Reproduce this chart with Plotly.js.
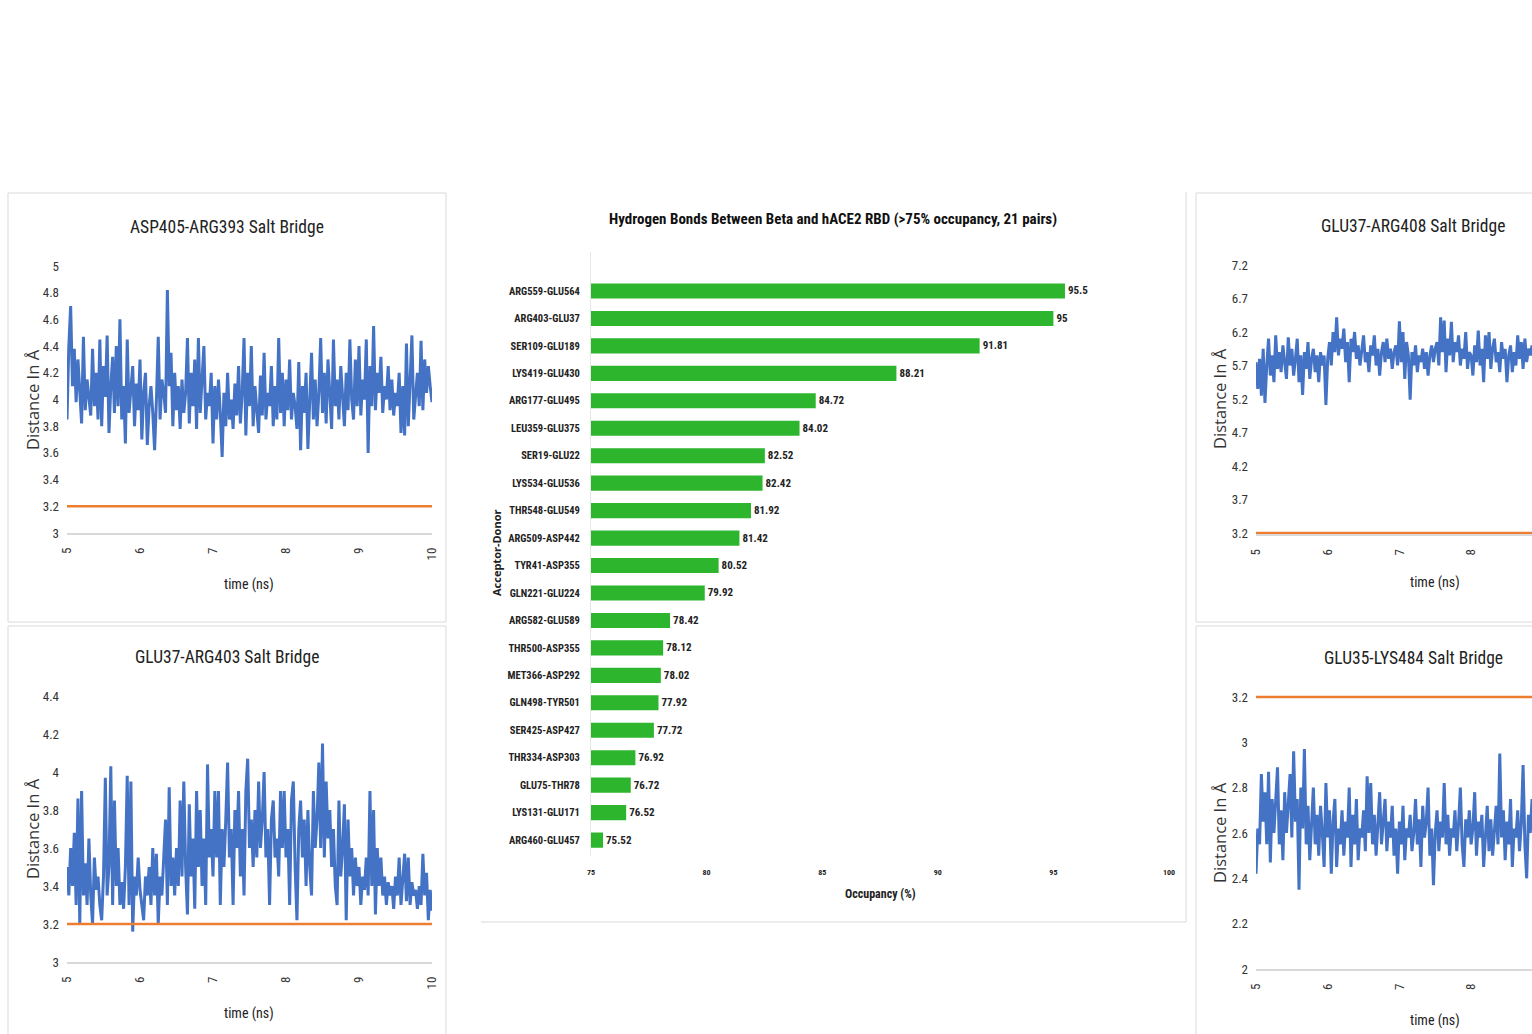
<!DOCTYPE html>
<html>
<head>
<meta charset="utf-8">
<script src="https://cdn.plot.ly/plotly-3.0.1.min.js"></script>
<style>
  html, body { margin: 0; padding: 0; background: #ffffff; overflow: hidden; }
  #fig { width: 1532px; height: 1034px; }
</style>
</head>
<body>
<div id="fig"></div>
<script>
// ---------------- data ----------------
// Salt-bridge distances (Å), sampled every 0.025 ns starting at 5 ns
const timeStep = 0.025;
const timeStart = 5;
const bridgeCutoff = 3.2;

const asp405Arg393 = [
  3.85, 4.40, 4.70, 4.10, 4.38, 3.98, 4.30, 4.05, 3.82, 4.47, 3.92, 4.15, 4.00, 3.88, 4.38, 3.95, 4.20, 3.85, 4.45, 3.80,
  4.25, 4.02, 4.48, 3.75, 4.10, 4.32, 3.90, 4.40, 3.95, 4.60, 3.85, 4.10, 3.67, 4.45, 3.90, 4.05, 4.25, 3.80, 4.12, 3.92,
  4.30, 3.70, 4.05, 4.20, 3.66, 3.95, 4.10, 3.90, 3.62, 4.00, 4.47, 3.85, 4.15, 4.05, 3.90, 4.82, 4.10, 4.35, 3.80, 4.20,
  3.92, 4.10, 3.78, 4.15, 3.90, 4.05, 4.46, 3.82, 4.20, 3.95, 4.30, 3.78, 4.46, 3.90, 4.15, 4.40, 3.85, 4.05, 3.95, 4.20,
  3.67, 4.10, 3.85, 4.15, 3.90, 3.57, 4.05, 3.80, 4.20, 3.85, 4.00, 3.78, 4.12, 3.88, 4.25, 3.82, 4.05, 4.46, 3.73, 4.20,
  3.95, 4.40, 3.80, 4.10, 3.92, 3.75, 4.18, 3.88, 4.35, 3.85, 4.05, 3.95, 4.25, 3.80, 4.10, 3.85, 4.46, 3.90, 4.20, 3.80,
  4.15, 3.92, 4.30, 3.85, 4.05, 3.95, 3.78, 4.28, 3.62, 4.10, 3.90, 4.20, 3.63, 3.98, 4.35, 3.85, 4.15, 3.80, 4.05, 4.46,
  3.90, 4.20, 3.82, 4.30, 4.00, 3.78, 4.45, 3.95, 4.15, 3.85, 4.25, 4.05, 3.80, 4.20, 3.92, 4.45, 4.00, 3.85, 4.30, 3.95,
  4.40, 3.88, 4.15, 4.00, 4.45, 3.60, 4.25, 3.95, 4.55, 3.92, 4.20, 4.05, 4.32, 3.90, 4.10, 4.00, 4.25, 3.92, 4.15, 3.88,
  4.05, 3.95, 4.20, 3.75, 4.10, 3.73, 4.42, 3.80, 4.15, 4.48, 3.85, 4.05, 4.20, 3.95, 4.44, 3.92, 4.30, 4.05, 4.25, 4.10,
  3.98
];

const glu37Arg403 = [
  3.50, 3.35, 3.60, 3.40, 3.68, 3.30, 3.86, 3.20, 3.90, 3.35, 3.52, 3.30, 3.65, 3.35, 3.20, 3.55, 3.38, 3.45, 3.30, 3.22,
  3.45, 3.97, 3.35, 3.50, 4.03, 3.30, 3.85, 3.40, 3.60, 3.30, 3.42, 3.28, 3.50, 3.98, 3.30, 3.95, 3.16, 3.45, 3.35, 3.55,
  3.38, 3.30, 3.22, 3.45, 3.35, 3.50, 3.30, 3.60, 3.35, 3.57, 3.20, 3.45, 3.35, 3.55, 3.75, 3.30, 3.92, 3.40, 3.55, 3.35,
  3.60, 3.40, 3.85, 3.45, 3.95, 3.50, 3.25, 3.83, 3.45, 3.65, 3.28, 3.90, 3.50, 3.80, 3.40, 3.65, 3.30, 4.04, 3.55, 3.70,
  3.45, 3.90, 3.55, 3.90, 3.30, 3.70, 3.50, 3.75, 4.05, 3.55, 3.70, 3.30, 3.80, 3.60, 3.90, 3.45, 3.70, 3.35, 3.90, 4.07,
  3.60, 3.75, 3.50, 3.80, 3.55, 3.95, 3.60, 3.75, 4.00, 3.55, 3.70, 3.30, 3.75, 3.85, 3.55, 3.65, 3.45, 3.90, 3.60, 3.90,
  3.55, 3.70, 3.30, 3.85, 3.95, 3.50, 3.22, 3.70, 3.85, 3.55, 3.75, 3.40, 3.80, 3.50, 3.35, 3.90, 3.60, 3.75, 4.05, 3.60,
  4.15, 3.55, 3.95, 3.65, 3.80, 3.50, 3.70, 3.40, 3.30, 3.85, 3.45, 3.60, 3.83, 3.22, 3.75, 3.45, 3.60, 3.35, 3.55, 3.40,
  3.50, 3.30, 3.45, 3.38, 3.55, 3.35, 3.90, 3.40, 3.80, 3.25, 3.60, 3.40, 3.55, 3.35, 3.45, 3.30, 3.42, 3.35, 3.40, 3.28,
  3.45, 3.35, 3.55, 3.30, 3.45, 3.57, 3.32, 3.55, 3.30, 3.42, 3.35, 3.38, 3.28, 3.40, 3.30, 3.57, 3.35, 3.47, 3.22, 3.38,
  3.27
];

const glu37Arg408 = [
  5.75, 5.35, 5.80, 5.25, 5.95, 5.14, 5.70, 6.10, 5.55, 5.85, 5.45, 6.15, 5.65, 5.90, 5.60, 6.00, 5.75, 5.50, 6.12, 5.70,
  5.95, 5.55, 5.80, 6.10, 5.45, 5.85, 5.26, 5.90, 5.65, 6.05, 5.50, 5.80, 5.95, 5.60, 5.85, 5.45, 5.90, 5.70, 5.85, 5.11,
  5.80, 6.05, 5.70, 6.20, 5.90, 6.42, 5.85, 6.10, 5.95, 6.25, 5.75, 6.05, 5.45, 6.10, 5.90, 6.20, 5.80, 6.00, 5.70, 5.95,
  6.15, 5.75, 5.90, 5.60, 6.00, 5.85, 6.15, 5.70, 5.95, 5.55, 5.90, 6.05, 5.75, 6.10, 5.80, 5.95, 5.65, 5.90, 6.00, 5.70,
  6.36, 5.75, 6.20, 5.50, 6.05, 5.85, 5.19, 5.90, 5.70, 6.00, 5.60, 5.85, 5.75, 5.95, 5.65, 5.90, 5.55, 5.85, 6.00, 5.75,
  5.95, 6.05, 5.70, 6.42, 5.90, 6.37, 5.60, 6.10, 5.85, 6.35, 5.75, 6.05, 5.90, 6.15, 5.70, 5.95, 5.80, 6.20, 5.65, 5.90,
  5.85, 5.55, 6.00, 5.75, 6.22, 5.70, 5.95, 5.45, 6.15, 5.80, 6.20, 5.65, 5.95, 6.10, 5.75, 5.90, 5.60, 6.05, 5.80, 5.95,
  5.45, 5.85, 6.00, 5.60, 5.90, 5.70, 6.15, 5.80, 6.05, 5.65, 6.10, 5.75, 5.95, 5.85, 6.00, 5.80
];

const glu35Lys484 = [
  2.42, 2.62, 2.55, 2.86, 2.65, 2.78, 2.55, 2.87, 2.47, 2.75, 2.60, 2.72, 2.89, 2.55, 2.70, 2.48, 2.78, 2.60, 2.72, 2.86,
  2.58, 2.96, 2.65, 2.75, 2.35, 2.80, 2.62, 2.97, 2.55, 2.72, 2.48, 2.65, 2.80, 2.55, 2.68, 2.50, 2.72, 2.60, 2.45, 2.82,
  2.58, 2.70, 2.42, 2.65, 2.75, 2.45, 2.62, 2.55, 2.70, 2.50, 2.65, 2.58, 2.80, 2.45, 2.68, 2.55, 2.75, 2.48, 2.62, 2.58,
  2.70, 2.52, 2.85, 2.60, 2.82, 2.55, 2.68, 2.50, 2.62, 2.78, 2.55, 2.66, 2.75, 2.52, 2.65, 2.58, 2.72, 2.50, 2.62, 2.42,
  2.65, 2.55, 2.72, 2.48, 2.62, 2.58, 2.68, 2.52, 2.60, 2.75, 2.55, 2.66, 2.45, 2.72, 2.58, 2.65, 2.80, 2.50, 2.62, 2.37,
  2.60, 2.70, 2.52, 2.65, 2.58, 2.82, 2.55, 2.68, 2.50, 2.62, 2.58, 2.70, 2.52, 2.64, 2.80, 2.55, 2.45, 2.66, 2.58, 2.70,
  2.55, 2.62, 2.78, 2.50, 2.65, 2.58, 2.68, 2.45, 2.60, 2.72, 2.52, 2.66, 2.50, 2.62, 2.72, 2.55, 2.95, 2.58, 2.70, 2.48,
  2.65, 2.55, 2.75, 2.45, 2.62, 2.58, 2.70, 2.52, 2.64, 2.90, 2.55, 2.40, 2.68, 2.60, 2.75, 2.58
];

// Hydrogen-bond pairs (acceptor-donor) and occupancy (%)
const hbondPairs = [
  "ARG559-GLU564", "ARG403-GLU37", "SER109-GLU189", "LYS419-GLU430", "ARG177-GLU495",
  "LEU359-GLU375", "SER19-GLU22", "LYS534-GLU536", "THR548-GLU549", "ARG509-ASP442",
  "TYR41-ASP355", "GLN221-GLU224", "ARG582-GLU589", "THR500-ASP355", "MET366-ASP292",
  "GLN498-TYR501", "SER425-ASP427", "THR334-ASP303", "GLU75-THR78", "LYS131-GLU171",
  "ARG460-GLU457"
];
const hbondOccupancy = [
  95.5, 95, 91.81, 88.21, 84.72, 84.02, 82.52, 82.42, 81.92, 81.42,
  80.52, 79.92, 78.42, 78.12, 78.02, 77.92, 77.72, 76.92, 76.72, 76.52, 75.52
];
const occupancyTicks = [75, 80, 85, 90, 95, 100];
const timeTicks = [5, 6, 7, 8, 9, 10];

// ---------------- helpers ----------------
const W = 1532, H = 1034;
const fx = p => p / W;          // pixel x -> paper
const fy = p => 1 - p / H;      // pixel y -> paper

const NARROW = "'Liberation Sans Narrow', 'Roboto Condensed', 'Arial Narrow', sans-serif";
const WIDE = "'Open Sans', 'DejaVu Sans', sans-serif";
const BLUE = "#4472C4";
const ORANGE = "#ED7D31";
const GRID = "#d9d9d9";

const timesFor = vals => vals.map((_, i) => timeStart + i * timeStep);

// ---------------- traces ----------------
const lineSets = [
  { vals: asp405Arg393, ax: "" },
  { vals: glu37Arg403, ax: "2" },
  { vals: glu37Arg408, ax: "4" },
  { vals: glu35Lys484, ax: "5" }
];

const traces = [];
lineSets.forEach(s => {
  traces.push({
    type: "scatter", mode: "lines",
    x: timesFor(s.vals), y: s.vals,
    xaxis: "x" + s.ax, yaxis: "y" + s.ax,
    line: { color: BLUE, width: 3 },
    hoverinfo: "skip", showlegend: false
  });
  traces.push({
    type: "scatter", mode: "lines",
    x: [timeTicks[0], timeTicks[timeTicks.length - 1]],
    y: [bridgeCutoff, bridgeCutoff],
    xaxis: "x" + s.ax, yaxis: "y" + s.ax,
    line: { color: ORANGE, width: 2.6 },
    hoverinfo: "skip", showlegend: false
  });
});

traces.push({
  type: "bar", orientation: "h",
  y: hbondPairs, x: hbondOccupancy,
  xaxis: "x3", yaxis: "y3",
  width: 0.55,
  marker: { color: "#2db52d", line: { width: 0 } },
  text: hbondOccupancy.map(v => String(v)),
  textposition: "outside",
  textfont: { family: NARROW, size: 11, color: "#222", weight: "bold" },
  cliponaxis: false,
  hoverinfo: "skip", showlegend: false
});

// ---------------- axes ----------------
function timeAxis(x0, x1, range, anchor) {
  return {
    domain: [fx(x0), fx(x1)], anchor: anchor,
    range: range, tickmode: "array", tickvals: timeTicks,
    tickangle: -90, ticks: "", ticklabelstandoff: 8,
    tickfont: { family: NARROW, size: 13, color: "#333" },
    showgrid: false, zeroline: false,
    showline: true, linecolor: GRID, linewidth: 1.5
  };
}
function distAxis(yTop, yBottom, range, tick0, dtick, anchor) {
  return {
    domain: [fy(yBottom), fy(yTop)], anchor: anchor,
    range: range, tick0: tick0, dtick: dtick, tickmode: "linear",
    ticks: "", ticklabelstandoff: 7,
    tickfont: { family: NARROW, size: 13, color: "#333" },
    showgrid: false, zeroline: false, showline: false
  };
}

const layout = {
  width: W, height: H,
  margin: { l: 0, r: 0, t: 0, b: 0 },
  paper_bgcolor: "#ffffff", plot_bgcolor: "rgba(0,0,0,0)",
  showlegend: false,

  // top-left panel
  xaxis: timeAxis(67, 432, [5, 10], "y"),
  yaxis: distAxis(266, 533, [3, 5], 3, 0.2, "x"),
  // bottom-left panel
  xaxis2: timeAxis(67, 432, [5, 10], "y2"),
  yaxis2: distAxis(696, 962, [3, 4.4], 3, 0.2, "x2"),
  // centre bar chart
  xaxis3: {
    domain: [fx(591), fx(1169)], anchor: "y3",
    range: [75, 100], tickmode: "array", tickvals: occupancyTicks,
    ticks: "", ticklabelstandoff: 10,
    tickfont: { family: NARROW, size: 8, color: "#222", weight: "bold" },
    showgrid: false, zeroline: false, showline: false
  },
  yaxis3: {
    domain: [fy(856), fy(252)], anchor: "x3",
    type: "category", categoryorder: "array", categoryarray: hbondPairs,
    range: [20.58, -1.42],
    ticks: "", ticklabelstandoff: 8,
    tickfont: { family: NARROW, size: 10.5, color: "#222", weight: "bold" },
    showgrid: false, zeroline: false,
    showline: true, linecolor: "#e6e6e6", linewidth: 1
  },
  // top-right panel
  xaxis4: timeAxis(1256, 1532, [5, 5 + (1532 - 1256) / 71.7], "y4"),
  yaxis4: distAxis(265, 534.3, [3.18, 7.2], 3.2, 0.5, "x4"),
  // bottom-right panel
  xaxis5: timeAxis(1256, 1532, [5, 5 + (1532 - 1256) / 71.7], "y5"),
  yaxis5: distAxis(694.7, 969, [2, 3.21], 2, 0.2, "x5"),

  shapes: [
    // panel frames
    { type: "rect", xref: "paper", yref: "paper", x0: fx(8), x1: fx(446), y0: fy(622), y1: fy(193), line: { color: GRID, width: 1 } },
    { type: "rect", xref: "paper", yref: "paper", x0: fx(8), x1: fx(446), y0: fy(1040), y1: fy(626), line: { color: GRID, width: 1 } },
    { type: "line", xref: "paper", yref: "paper", x0: fx(481), x1: fx(1186), y0: fy(922), y1: fy(922), line: { color: GRID, width: 1 } },
    { type: "line", xref: "paper", yref: "paper", x0: fx(1186), x1: fx(1186), y0: fy(922), y1: fy(192), line: { color: GRID, width: 1 } },
    { type: "rect", xref: "paper", yref: "paper", x0: fx(1196), x1: fx(1540), y0: fy(622), y1: fy(193), line: { color: GRID, width: 1 } },
    { type: "rect", xref: "paper", yref: "paper", x0: fx(1196), x1: fx(1540), y0: fy(1040), y1: fy(626), line: { color: GRID, width: 1 } }
  ],

  annotations: []
};

function note(text, x, y, font, angle) {
  layout.annotations.push({
    text: text, xref: "paper", yref: "paper", x: fx(x), y: fy(y),
    xanchor: "center", yanchor: "middle", showarrow: false,
    textangle: angle || 0, font: font
  });
}

const titleFont = { family: NARROW, size: 17.5, color: "#222" };
const axisTitleFont = { family: NARROW, size: 14, color: "#222" };
const distTitleFont = { family: WIDE, size: 16.5, color: "#333" };

note("ASP405-ARG393 Salt Bridge", 227, 227, titleFont);
note("GLU37-ARG403 Salt Bridge", 227, 657, titleFont);
note("GLU37-ARG408 Salt Bridge", 1413, 226, titleFont);
note("GLU35-LYS484 Salt Bridge", 1413, 658, titleFont);

note("Distance In Å", 32, 400, distTitleFont, -90);
note("Distance In Å", 32, 829, distTitleFont, -90);
note("Distance In Å", 1219, 399, distTitleFont, -90);
note("Distance In Å", 1219, 833, distTitleFont, -90);

note("time (ns)", 249, 584, axisTitleFont);
note("time (ns)", 249, 1013, axisTitleFont);
note("time (ns)", 1435, 582, axisTitleFont);
note("time (ns)", 1435, 1020, axisTitleFont);

note("Hydrogen Bonds Between Beta and hACE2 RBD (>75% occupancy, 21 pairs)", 833, 219,
     { family: NARROW, size: 15, color: "#111", weight: "bold" });
note("Occupancy (%)", 880, 894, { family: NARROW, size: 12, color: "#222", weight: "bold" });
note("Acceptor-Donor", 496, 553, { family: WIDE, size: 11, color: "#222", weight: "bold" }, -90);

Plotly.newPlot("fig", traces, layout, { staticPlot: true, displayModeBar: false });
</script>
</body>
</html>
